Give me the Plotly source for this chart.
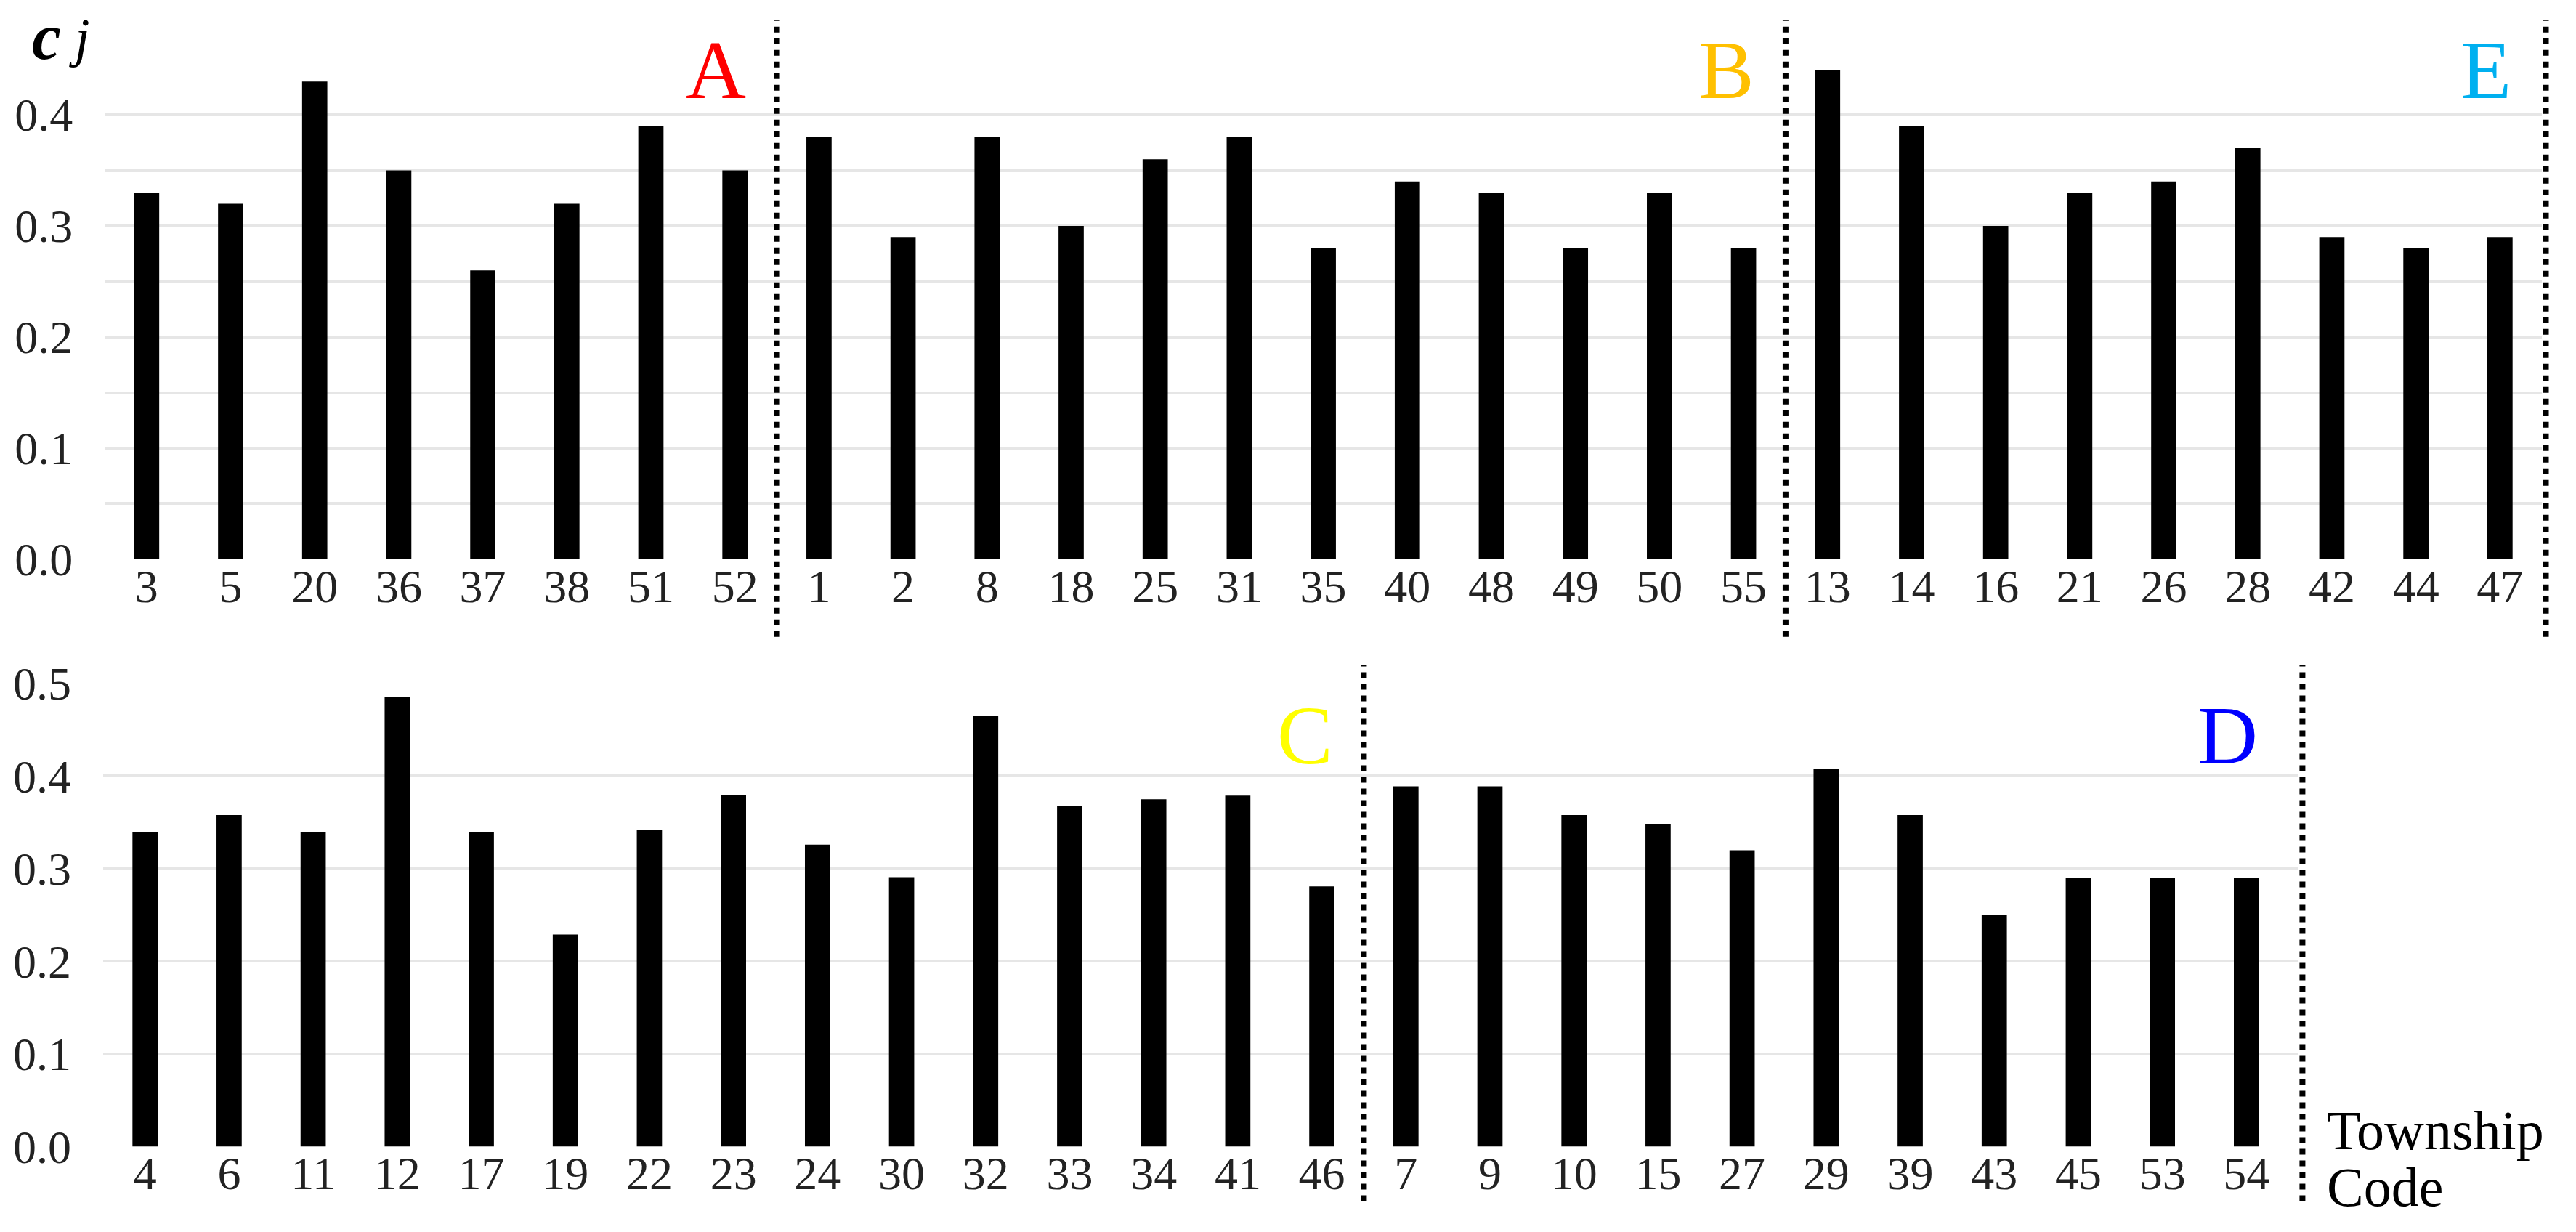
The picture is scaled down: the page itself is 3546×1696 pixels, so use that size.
import plotly.graph_objects as go

# ── Data ──────────────────────────────────────────────────────────────────────
codes_a = ["3", "5", "20", "36", "37", "38", "51", "52"]
vals_a = [0.33, 0.32, 0.43, 0.35, 0.26, 0.32, 0.39, 0.35]
codes_b = ["1", "2", "8", "18", "25", "31", "35", "40", "48", "49", "50", "55"]
vals_b = [0.38, 0.29, 0.38, 0.30, 0.36, 0.38, 0.28, 0.34, 0.33, 0.28, 0.33, 0.28]
codes_e = ["13", "14", "16", "21", "26", "28", "42", "44", "47"]
vals_e = [0.44, 0.39, 0.30, 0.33, 0.34, 0.37, 0.29, 0.28, 0.29]

codes_c = ["4", "6", "11", "12", "17", "19", "22", "23", "24", "30", "32",
           "33", "34", "41", "46"]
vals_c = [0.34, 0.358, 0.34, 0.485, 0.34, 0.229, 0.342, 0.38, 0.326, 0.291,
          0.465, 0.368, 0.375, 0.379, 0.281]
codes_d = ["7", "9", "10", "15", "27", "29", "39", "43", "45", "53", "54"]
vals_d = [0.389, 0.389, 0.358, 0.348, 0.32, 0.408, 0.358, 0.25, 0.29, 0.29, 0.29]

top_groups = [("A", "#FF0000", codes_a, vals_a),
              ("B", "#FFC000", codes_b, vals_b),
              ("E", "#00B0F0", codes_e, vals_e)]
bottom_groups = [("C", "#FFFF00", codes_c, vals_c),
                 ("D", "#0000FF", codes_d, vals_d)]

FONT = "Liberation Serif"
GRID = "#E6E6E6"

# axis geometry (paper fractions / category ranges)
TOP_DOM, TOP_RANGE = [0.0406, 0.9868], [-0.5, 28.5]
BOT_DOM, BOT_RANGE = [0.0400, 0.8923], [-0.5, 25.62]

fig = go.Figure()
shapes = []
annotations = []


def to_paper(pos, dom, rng):
    return dom[0] + (pos - rng[0]) / (rng[1] - rng[0]) * (dom[1] - dom[0])


def add_row(groups, xa, ya, dom, rng, line_y, letter_y):
    xs, ys = [], []
    n = 0
    for i, (letter, color, codes, vals) in enumerate(groups):
        xs += codes
        ys += vals
        n += len(codes)
        last = i == len(groups) - 1
        pos = rng[1] if last else n - 0.5
        xp = to_paper(pos, dom, rng) + (0.0015 if last else 0)
        # dotted separator after each group
        shapes.append(dict(type="line", xref="paper", yref="paper",
                           x0=xp, x1=xp, y0=line_y[0], y1=line_y[1],
                           line=dict(color="black", width=8, dash="dot")))
        annotations.append(dict(text=letter, xref=xa, yref="paper",
                                x=n - 0.85, y=letter_y, xanchor="right",
                                yanchor="middle", showarrow=False,
                                font=dict(family=FONT, size=115, color=color)))
    fig.add_trace(go.Bar(x=xs, y=ys, xaxis=xa, yaxis=ya,
                         marker=dict(color="black", line=dict(width=0)),
                         width=0.3, showlegend=False))


add_row(top_groups, "x", "y", TOP_DOM, TOP_RANGE, (0.483, 0.984), 0.943)
add_row(bottom_groups, "x2", "y2", BOT_DOM, BOT_RANGE, (0.025, 0.460), 0.403)

# y-axis symbol c_j, drawn as two pieces so nothing leaves the page
annotations.append(dict(text="<b><i>c</i></b>", xref="paper", yref="paper",
                        x=0.012, y=1.0, xanchor="left", yanchor="top",
                        showarrow=False, borderpad=0,
                        font=dict(family=FONT, size=90, color="black")))
annotations.append(dict(text="<i>j</i>", xref="paper", yref="paper",
                        x=0.0265, y=0.994, xanchor="left", yanchor="top",
                        showarrow=False, borderpad=0,
                        font=dict(family=FONT, size=74, color="black")))
for txt, yy in [("Township", 0.0825), ("Code", 0.0366)]:
    annotations.append(dict(text=txt, xref="paper", yref="paper",
                            x=0.903, y=yy, xanchor="left", yanchor="middle",
                            showarrow=False, borderpad=0,
                            font=dict(family=FONT, size=76, color="black")))

xcommon = dict(type="category", showgrid=False, zeroline=False, showline=False,
               ticks="", ticklabelstandoff=-6, automargin=False,
               tickfont=dict(family=FONT, size=64, color="#222222"))
ycommon = dict(zeroline=False, showline=False, tickformat=".1f", automargin=False,
               ticks="outside", ticklen=30, tickcolor="rgba(0,0,0,0)",
               tickfont=dict(family=FONT, size=64, color="#222222"))

fig.update_layout(
    width=3546, height=1696,
    margin=dict(l=0, r=0, t=0, b=0, autoexpand=False),
    plot_bgcolor="white", paper_bgcolor="white",
    xaxis=dict(domain=TOP_DOM, range=TOP_RANGE, anchor="y", **xcommon),
    yaxis=dict(domain=[0.546, 0.951], range=[0, 0.449], dtick=0.1, anchor="x",
               showgrid=True, gridcolor=GRID, gridwidth=4,
               minor=dict(dtick=0.05, showgrid=True, gridcolor=GRID, gridwidth=4),
               **ycommon),
    xaxis2=dict(domain=BOT_DOM, range=BOT_RANGE, anchor="y2", **xcommon),
    yaxis2=dict(domain=[0.0693, 0.4452], range=[0, 0.5], dtick=0.1, anchor="x2",
                showgrid=False,
                minor=dict(tickmode="array", tickvals=[0, 0.1, 0.2, 0.3, 0.4],
                           showgrid=True, gridcolor=GRID, gridwidth=4),
                **ycommon),
    shapes=shapes,
    annotations=annotations,
)

fig.write_html("out.html", config={"displayModeBar": False},
               post_script="document.body.style.margin='0';")
